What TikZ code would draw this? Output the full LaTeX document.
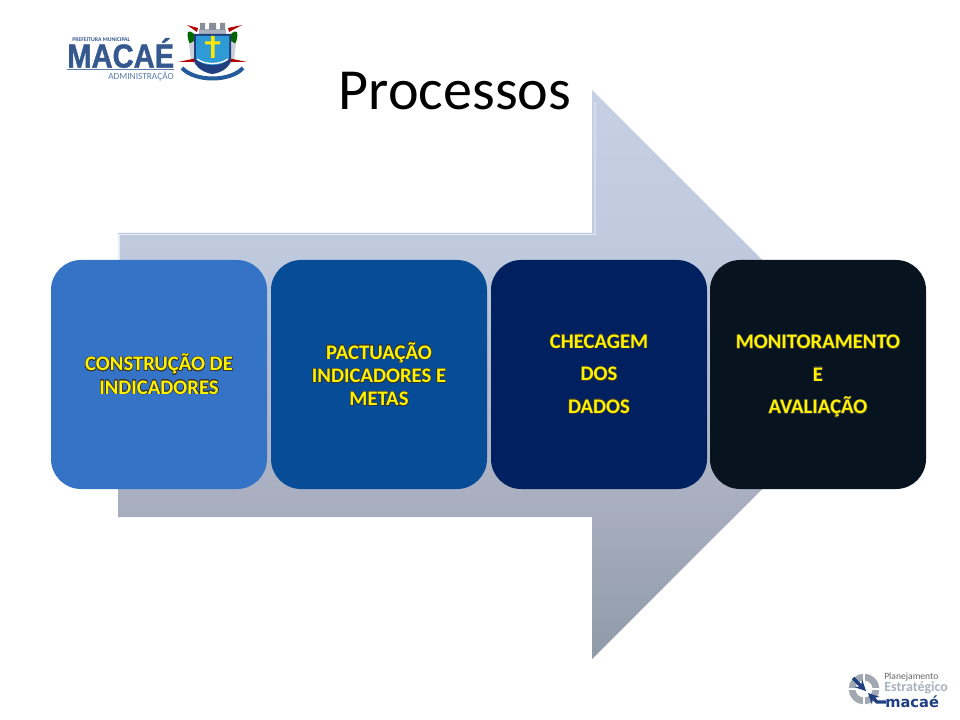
\documentclass[tikz,border=0pt]{standalone}
\usepackage{fontspec}
\setmainfont{Carlito}
\newfontfamily\dejabold{DejaVu Sans Bold}
\newfontfamily\machead[FakeBold=1.2]{Liberation Sans Bold}
\usepackage{graphicx}
\usepackage{contour}
\contourlength{0.4pt}
\definecolor{boxa}{HTML}{3573C6}
\definecolor{boxb}{HTML}{064C96}
\definecolor{boxc}{HTML}{012060}
\definecolor{boxd}{HTML}{07141F}
\definecolor{macblue}{HTML}{35598F}
\definecolor{lightblue}{HTML}{5B7DB0}
\definecolor{logogrey}{HTML}{A9B2BD}
\definecolor{navy}{HTML}{1F3F80}
\definecolor{shieldblue}{HTML}{2F9BD6}
\definecolor{arrowa}{HTML}{C5D0E4}
\definecolor{arrowb}{HTML}{BFCADE}
\definecolor{arrowc}{HTML}{A9AFC0}
\definecolor{arrowd}{HTML}{8F9AA8}
\definecolor{bevel}{HTML}{D3DCEB}
\definecolor{bevelhi}{HTML}{E6ECF5}
\pgfdeclareverticalshading{arrowsh}{100bp}{color(0bp)=(arrowd); color(25bp)=(arrowd); color(39bp)=(arrowc); color(61bp)=(arrowb); color(75bp)=(arrowa); color(100bp)=(arrowa)}
\newcommand{\glow}[1]{\contour{black!80}{\textcolor{yellow}{#1}}}
\tikzset{
 stage/.style={rounded corners=22.5pt,minimum width=162pt,minimum height=171.75pt,inner sep=0pt,align=center,text=yellow,font=\bfseries\fontsize{15.5pt}{17.4pt}\selectfont},
 stagewide/.style={stage,font=\bfseries\fontsize{15.5pt}{24.4pt}\selectfont},
 logotext/.style={anchor=west,inner sep=0pt},
}
\begin{document}
\begin{tikzpicture}[x=0.75pt,y=-0.75pt]
\useasboundingbox (0,0) rectangle (960,720);
\fill[white] (0,0) rectangle (960,720);
% big arrow
\path[shading=arrowsh] (118,233) -- (592,233) -- (592,90) -- (877,374.5) -- (592,659) -- (592,517) -- (118,517) -- cycle;
\draw[bevel,line width=2pt] (595,102) -- (595,235);
\draw[bevelhi,line width=1.2pt] (119,262) -- (119,234.5) -- (596,234.5);
% stages
\node[stage,fill=boxa] (s1) at (159,374.5) {\raisebox{0pt}[\height][0pt]{\glow{CONSTRUÇÃO DE}}\\\glow{INDICADORES}};
\node[stage,fill=boxb] (s2) at (379,374.5) {\raisebox{0pt}[\height][0pt]{\glow{PACTUAÇÃO}}\\\glow{INDICADORES E}\\\glow{METAS}};
\node[stagewide,fill=boxc] (s3) at (599,374.5) {\glow{CHECAGEM}\\\glow{DOS}\\\glow{DADOS}};
\node[stagewide,fill=boxd] (s4) at (818,374.5) {\glow{MONITORAMENTO}\\\glow{E}\\\raisebox{0pt}[\height][0pt]{\glow{AVALIAÇÃO}}};
% title
\node[font=\fontsize{43.6pt}{48pt}\selectfont,inner sep=0pt] (title) at (455,91) {Processos};
% logo left
\node[font=\fontsize{4.3pt}{5pt}\bfseries\selectfont,text=macblue,logotext] (pm) at (72,39.5) {PREFEITURA MUNICIPAL};
\node[text=macblue,logotext] (mac) at (67,53) {\scalebox{.875}[1]{\machead\fontsize{25pt}{28pt}\selectfont MACAÉ}};
\node[font=\fontsize{7pt}{8pt}\selectfont,text=lightblue,anchor=east,inner sep=0pt] (adm) at (174,77) {ADMINISTRAÇÃO};
\fill[lightblue] (67,68.6) rectangle (174,69.8);
% crest: crown
\fill[logogrey] (199,29) rectangle (226,36);
\fill[logogrey!80!black] (200,23) rectangle (205,30) (209,23) rectangle (216,30) (220,23) rectangle (225,30);
% crest: plants and supports
\fill[green!40!black] (188,32) .. controls (190,30) and (196,34) .. (198,40) -- (190,44) .. controls (188,40) and (187,36) .. (188,32) -- cycle;
\fill[green!40!black] (237,32) .. controls (235,30) and (229,34) .. (227,40) -- (235,44) .. controls (237,40) and (238,36) .. (237,32) -- cycle;
\fill[logogrey!60!white] (189,44) -- (196,40) -- (196,66) -- (191,60) -- cycle (236,44) -- (229,40) -- (229,66) -- (234,60) -- cycle;
% crest: arrows
\fill[red!70!black] (187,25) -- (198,28) -- (197,32) -- cycle (242,25) -- (228,28) -- (229,32) -- cycle (178,62) -- (197,58) -- (197,62) -- cycle (247,62) -- (228,58) -- (228,62) -- cycle;
% crest: shield
\fill[navy] (194,34) rectangle (231,58) (194,58) .. controls (194,68) and (205,73) .. (212.5,74) .. controls (220,73) and (231,68) .. (231,58) -- cycle;
\fill[shieldblue] (196,36) rectangle (229,58) (196,58) .. controls (197,62) and (205,65) .. (212.5,65) .. controls (220,65) and (228,62) .. (229,58) -- cycle;
\fill[yellow!90!orange] (211,36) rectangle (214.5,58) (205,41.5) rectangle (220,44.5);
\draw[white,line width=1pt] (197,59) .. controls (205,65) and (220,65) .. (228,59);
% crest: ribbon
\draw[navy!70!shieldblue,line width=3pt] (182,68) .. controls (195,82) and (230,82) .. (243,68);
% logo right
\draw[logogrey!80!gray,line width=5pt] (864,689) circle (12);
\draw[white,line width=1.5pt] (847,689) -- (881,689) (864,672) -- (864,706);
\draw[navy,line width=2.5pt,-stealth] (853,678) -- (866,691);
\draw[navy,line width=2.5pt,-stealth] (886,702) -- (877,702) -- (868,693);
\node[font=\fontsize{7.2pt}{8pt}\selectfont,text=gray!80!black,logotext] (pl) at (884,677) {Planejamento};
\node[font=\fontsize{10.5pt}{11pt}\bfseries\selectfont,text=logogrey,logotext] (es) at (884,688) {Estratégico};
\node[font=\dejabold\fontsize{11pt}{12pt}\selectfont,text=navy,logotext] (mc) at (885,702) {macaé};
\end{tikzpicture}
\end{document}
